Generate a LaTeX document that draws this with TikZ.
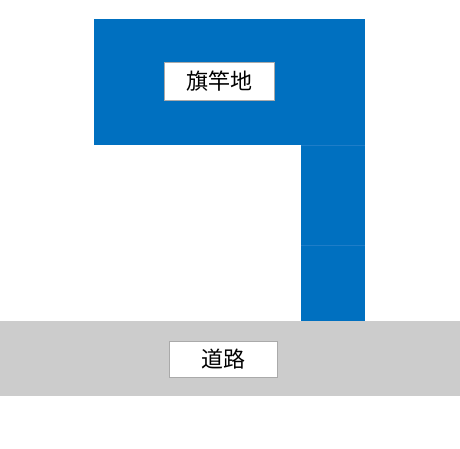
\documentclass[tikz,border=0pt]{standalone}
\usepackage{fontspec}
\newfontfamily\jpfont{Noto Sans CJK JP}
\definecolor{lotblue}{RGB}{0,112,192}
\definecolor{seamblue}{RGB}{30,125,200}
\definecolor{roadgray}{RGB}{204,204,204}
\definecolor{boxgray}{RGB}{170,170,170}
\tikzset{
    label box/.style={draw=boxgray, line width=0.8pt, fill=white, inner sep=0pt,
        font=\jpfont\fontsize{22}{22}\selectfont}
}

\begin{document}
\begin{tikzpicture}[x=1pt, y=-1pt]
    % page size
    \useasboundingbox (0,0) rectangle (460,449);

    % road
    \fill[roadgray] (0,321) rectangle (460,396);

    % flag lot - head and pole
    \fill[lotblue] (94,19) rectangle (365,145);
    \fill[lotblue] (301,145) rectangle (365,245);
    \fill[lotblue] (301,245) rectangle (365,321);
    \draw[seamblue, line width=0.4pt] (301,145) -- (365,145);
    \draw[seamblue, line width=0.4pt] (301,245) -- (365,245);

    % labels
    \node[label box, minimum width=110pt, minimum height=38pt] (lot) at (219,81) {旗竿地};
    \node[label box, minimum width=108pt, minimum height=36pt] (road) at (223,359) {道路};
\end{tikzpicture}
\end{document}
